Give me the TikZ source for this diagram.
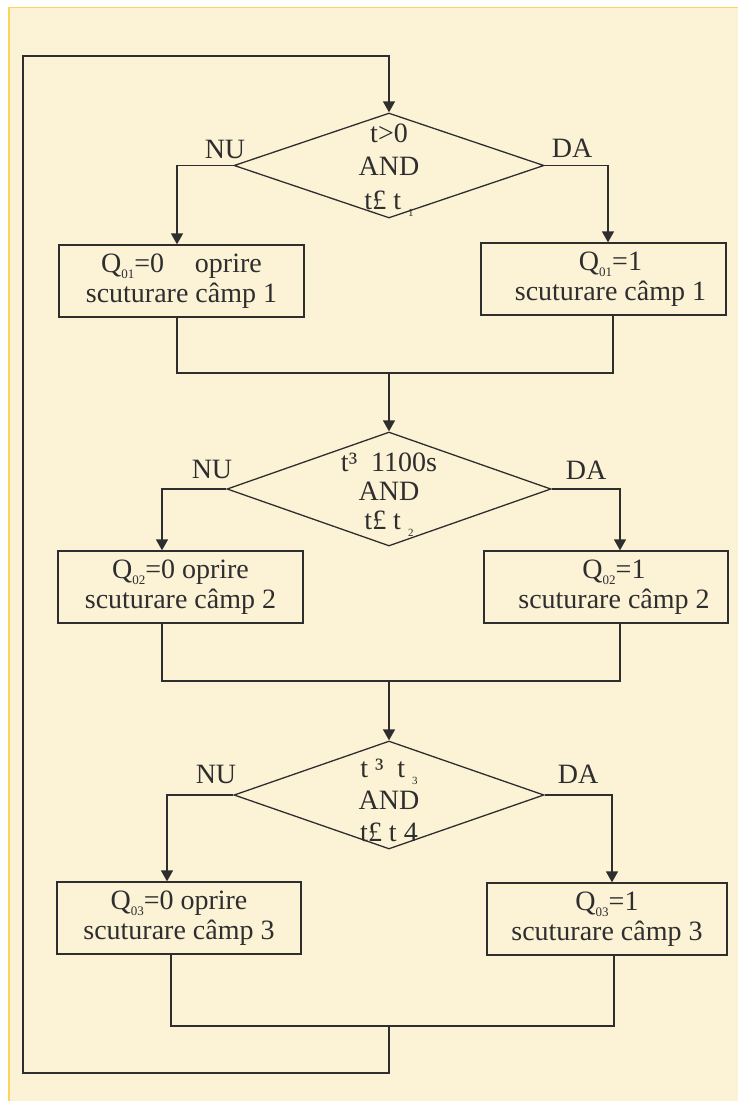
\documentclass[tikz,border=0pt]{standalone}
\usepackage{fontspec}
\setmainfont{Liberation Serif}
\usetikzlibrary{arrows.meta,shapes.geometric,calc}
\definecolor{bgcream}{HTML}{FCF2D6}
\definecolor{bordery}{HTML}{F9D65A}
\definecolor{ink}{HTML}{2E2E2E}
\newcommand{\qsub}[1]{\raisebox{-0.22em}{\fontsize{13}{13}\selectfont #1}}
\newcommand{\tsub}[1]{\raisebox{-0.25em}{\fontsize{11}{11}\selectfont #1}}
\begin{document}
\begin{tikzpicture}[x=1pt,y=-1pt,
  flowline/.style={draw=ink, line width=1.3pt},
  flowarrow/.style={flowline, -{Triangle[length=11pt,width=12pt]}},
  procbox/.style={draw=ink, line width=1.3pt, rectangle, minimum width=245pt, minimum height=72pt, inner sep=0pt, align=center, font=\fontsize{28}{29.5}\selectfont, text=ink},
  decbox/.style={draw=ink, line width=1.3pt, diamond, inner sep=0pt},
  dectext/.style={align=center, font=\fontsize{28}{32}\selectfont, text=ink, inner sep=0pt},
  branchlabel/.style={font=\fontsize{28}{28}\selectfont, text=ink, inner sep=0pt}
]
\useasboundingbox (0,0) rectangle (738,1101);
\fill[white] (0,0) rectangle (738,1101);
\fill[bgcream] (9,7.5) rectangle (738,1101);
\draw[bordery, line width=1.2pt] (738,7.5) -- (9,7.5) -- (9,1101);

% decisions
\node[decbox, minimum width=310pt, minimum height=105pt] (d1) at (389,165.5) {};
\node[dectext, font=\fontsize{28}{33.5}\selectfont] (d1t) at (389,170) {t>0\\AND\\t£ t \tsub{1}};
\node[decbox, minimum width=324pt, minimum height=114pt] (d2) at (389,489) {};
\node[dectext, font=\fontsize{28}{29}\selectfont] (d2t) at (389,495) {t³\hspace{0.5em}1100s\\AND\\t£ t \tsub{2}};
\node[decbox, minimum width=310pt, minimum height=108pt] (d3) at (389,795) {};
\node[dectext] (d3t) at (389,800) {t ³ \ t \tsub{3}\\AND\\t£ t 4};

% boxes
\node[procbox] (L1) at (181.5,281) {Q\qsub{01}=0\hspace{1.1em}oprire\\scuturare câmp 1};
\node[procbox] (R1) at (603.5,279) {\hspace*{14pt}Q\qsub{01}=1\\\hspace*{14pt}scuturare câmp 1};
\node[procbox] (L2) at (180.5,587) {Q\qsub{02}=0 oprire\\scuturare câmp 2};
\node[procbox, minimum width=244pt] (R2) at (606,587) {\hspace*{16pt}Q\qsub{02}=1\\\hspace*{16pt}scuturare câmp 2};
\node[procbox, minimum width=244pt] (L3) at (179,918) {Q\qsub{03}=0 oprire\\scuturare câmp 3};
\node[procbox, minimum width=240pt] (R3) at (607,919) {Q\qsub{03}=1\\scuturare câmp 3};

% labels
\node[branchlabel] (nu1) at (225,149) {NU};
\node[branchlabel] (da1) at (572,148) {DA};
\node[branchlabel] (nu2) at (212,469) {NU};
\node[branchlabel] (da2) at (586,470) {DA};
\node[branchlabel] (nu3) at (216,774) {NU};
\node[branchlabel] (da3) at (578,774) {DA};

% merge points
\coordinate (m1) at (389,373);
\coordinate (m2) at (389,681);
\coordinate (m3) at (389,1026);
\coordinate (lc) at (23,1073);
\coordinate (lt) at (23,56);

% row 1
\draw[flowarrow] (d1.west) -| ([xshift=-4.5pt]L1.north);
\draw[flowarrow] (d1.east) -| ([xshift=4.5pt]R1.north);
\draw[flowline] ([xshift=-4.5pt]L1.south) |- (m1) -| ([xshift=9.5pt]R1.south);
\draw[flowarrow] (m1) -- (d2.north);

% row 2
\draw[flowarrow] (d2.west) -| ([xshift=-18.5pt]L2.north);
\draw[flowarrow] (d2.east) -| ([xshift=14pt]R2.north);
\draw[flowline] ([xshift=-18.5pt]L2.south) |- (m2) -| ([xshift=14pt]R2.south);
\draw[flowarrow] (m2) -- (d3.north);

% row 3
\draw[flowarrow] (d3.west) -| ([xshift=-12pt]L3.north);
\draw[flowarrow] (d3.east) -| ([xshift=5pt]R3.north);
\draw[flowline] ([xshift=-8pt]L3.south) |- (m3) -| ([xshift=7pt]R3.south);

% loop back
\draw[flowarrow] (m3) |- (lc) -- (lt) -| (d1.north);
\end{tikzpicture}
\end{document}
